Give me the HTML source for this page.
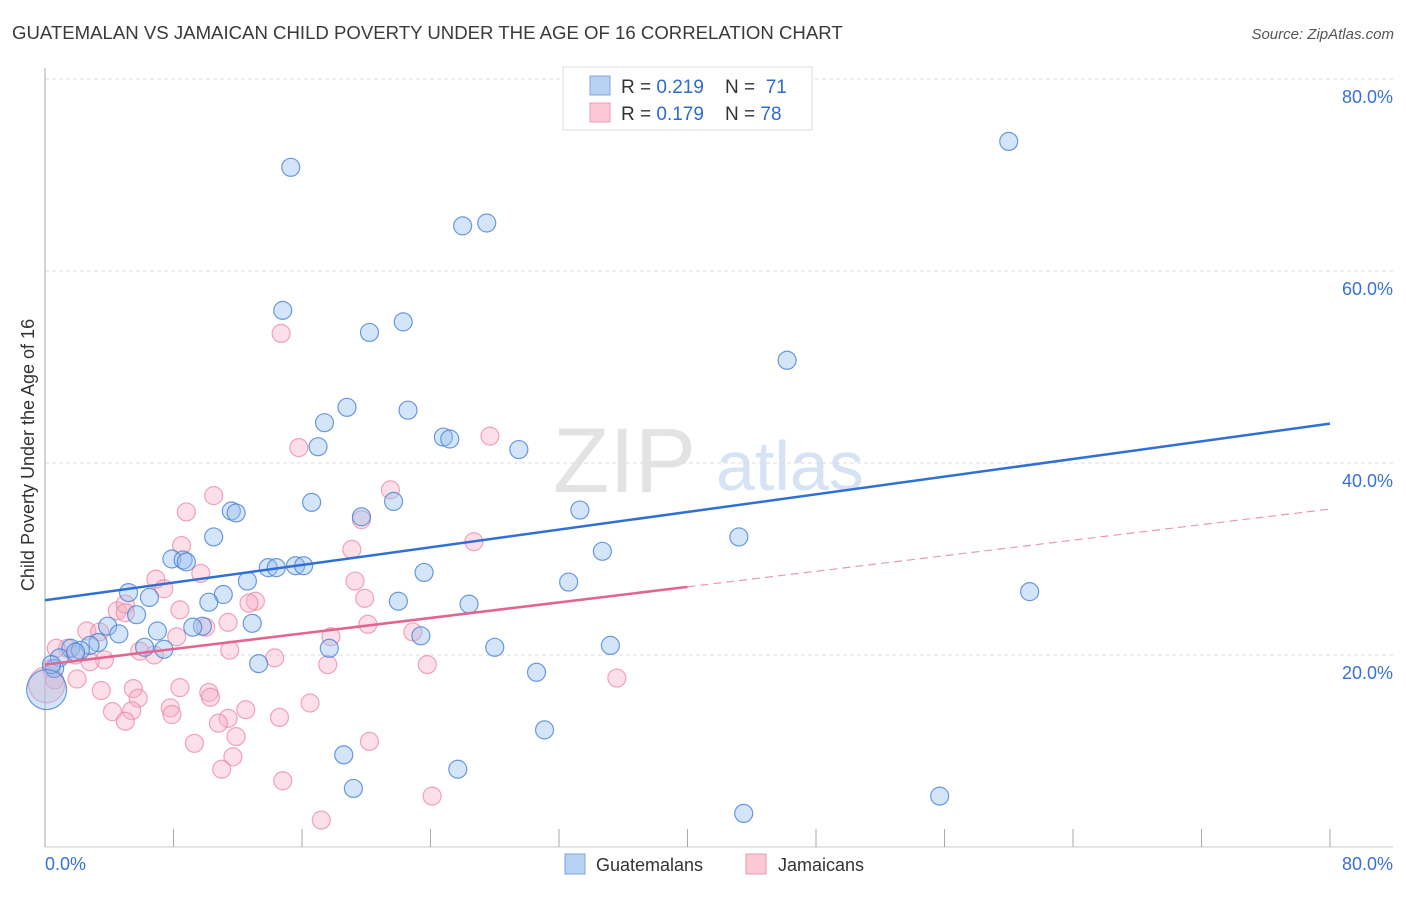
<!DOCTYPE html>
<html><head><meta charset="utf-8"><style>
body{margin:0;background:#fff;font-family:"Liberation Sans",sans-serif;}
svg text{font-family:"Liberation Sans",sans-serif;}
</style></head><body>
<svg id="chart" width="1406" height="892" xmlns="http://www.w3.org/2000/svg">
<text x="12" y="39" font-size="18.6" fill="#3a3a3a">GUATEMALAN VS JAMAICAN CHILD POVERTY UNDER THE AGE OF 16 CORRELATION CHART</text>
<text x="1394" y="39" font-size="15" fill="#555" font-style="italic" text-anchor="end">Source: ZipAtlas.com</text>
<g>
<text x="553" y="492" font-size="92" fill="#e3e3e3" font-family="Liberation Serif, serif">ZIP</text>
<text x="716" y="490" font-size="70" fill="#d6e3f5">atlas</text>
</g>
<g id="grid"></g>
<g id="axes"></g>
<g id="pts"></g>
<g id="lines"></g>
<text transform="translate(34,455) rotate(-90)" font-size="18" fill="#333" text-anchor="middle">Child Poverty Under the Age of 16</text>
<g>
<rect x="563" y="67" width="249" height="63" fill="#fff" stroke="#ddd"/>
<rect x="590" y="76" width="20" height="19" fill="#b8d2f4" stroke="#7aa6e0"/>
<rect x="590" y="103" width="20" height="19" fill="#fbc8d6" stroke="#eb9ab2"/>
<text x="621" y="93" font-size="19" fill="#333" xml:space="preserve">R = <tspan fill="#2f6ad0">0.219</tspan>    N =  <tspan fill="#2f6ad0">71</tspan></text>
<text x="621" y="120" font-size="19" fill="#333" xml:space="preserve">R = <tspan fill="#2f6ad0">0.179</tspan>    N = <tspan fill="#2f6ad0">78</tspan></text>
</g>
<g>
<rect x="565" y="854" width="20" height="20" fill="#b8d2f4" stroke="#7aa6e0"/>
<text x="596" y="871" font-size="18" fill="#333">Guatemalans</text>
<rect x="746" y="854" width="20" height="20" fill="#fbc8d6" stroke="#eb9ab2"/>
<text x="778" y="871" font-size="18" fill="#333">Jamaicans</text>
</g>
</svg>
<script>
const yTicks=[20,40,60,80];
const yTickLabels=["20.0%","40.0%","60.0%","80.0%"];
const xTicks=[0,8,16,24,32,40,48,56,64,72,80];
const xTickLabels=["0.0%","80.0%"];
const guatX=[15.3,60.0,26.0,27.5,14.8,20.2,22.3,46.2,18.8,17.4,22.6,24.8,25.2,17.0,29.5,16.6,21.7,19.7,33.3,11.6,11.9,10.5,43.2,7.9,8.6,8.8,34.7,13.9,14.4,15.6,16.1,23.6,12.6,32.6,61.3,5.2,6.5,11.1,10.2,26.4,22.0,5.7,12.9,9.8,9.2,3.9,7.0,4.6,23.4,35.2,28.0,17.7,6.2,7.4,3.3,2.8,1.6,2.2,0.9,0.6,13.3,30.6,31.1,18.6,25.7,19.2,55.7,43.5,1.9,0.4,0.1];
const guatY=[70.8,73.5,64.7,65.0,55.9,53.6,54.7,50.7,45.8,44.2,45.5,42.7,42.5,41.7,41.4,35.9,36.0,34.4,35.1,35.0,34.8,32.3,32.3,30.0,29.9,29.7,30.8,29.1,29.1,29.3,29.3,28.6,27.7,27.6,26.6,26.5,26.0,26.3,25.5,25.3,25.6,24.2,23.3,23.0,22.9,23.0,22.5,22.2,22.0,21.0,20.8,20.7,20.8,20.6,21.3,21.0,20.7,20.5,19.7,18.6,19.1,18.2,12.2,9.6,8.1,6.1,5.3,3.5,20.3,19.0,16.4];
const jamX=[14.7,15.8,27.7,21.5,10.5,8.8,19.7,19.1,26.7,8.5,9.7,6.9,19.3,7.4,19.9,13.1,12.7,4.5,5.0,8.4,5.0,11.4,20.1,22.9,17.8,8.2,2.6,3.4,10.0,11.5,5.9,6.8,3.7,1.4,0.7,1.9,2.8,14.3,17.6,23.8,35.6,2.0,3.5,5.5,8.4,10.2,10.3,5.8,16.5,4.2,5.4,12.5,7.8,7.9,5.0,14.6,11.4,10.8,11.9,9.3,20.2,11.7,11.0,14.8,24.1,17.2,0.4,0.6,0.1];
const jamY=[53.5,41.6,42.8,37.2,36.6,34.9,34.1,31.0,31.8,31.4,28.5,27.9,27.7,26.9,25.9,25.6,25.4,24.6,25.3,24.7,24.4,23.4,23.2,22.4,21.9,21.9,22.5,22.4,22.9,20.5,20.4,20.0,19.5,20.7,20.7,20.0,19.3,19.7,19.0,19.0,17.6,17.5,16.3,16.5,16.6,16.1,15.6,15.5,15.0,14.1,14.2,14.3,14.5,13.8,13.1,13.5,13.4,12.9,11.5,10.8,11.0,9.4,8.1,6.9,5.3,2.8,18.6,17.4,16.9];
const guatTrend=[25.7,44.1];
const jamTrend=[19.0,35.2];
const jamSolidEnd=40;
const NS="http://www.w3.org/2000/svg";
const X0=45,X1=1330,Y0=847,Y80=79;
function sx(v){return X0+(X1-X0)*v/80;}
function sy(v){return Y0-(Y0-Y80)*v/80;}
function mk(tag,attrs,parent){const e=document.createElementNS(NS,tag);for(const k in attrs)e.setAttribute(k,attrs[k]);parent.appendChild(e);return e;}
const grid=document.getElementById('grid'),axes=document.getElementById('axes'),pts=document.getElementById('pts'),lines=document.getElementById('lines');
yTicks.forEach((t,i)=>{
 const l=mk('line',{x1:X0,x2:1393,y1:sy(t),y2:sy(t),stroke:'#ddd','stroke-dasharray':'4,3'},grid);
 
 
 const tx=mk('text',{x:1393,y:sy(t)+24,'font-size':18,fill:'#3a6fd8','text-anchor':'end'},axes);
 tx.textContent=yTickLabels[i];
 
 
});
const ax=mk('line',{x1:X0,x2:X0,y1:68,y2:Y0,stroke:'#aaa'},axes);


const bx=mk('line',{x1:X0,x2:1393,y1:Y0,y2:Y0,stroke:'#ccc'},axes);


xTicks.forEach(t=>{
 const l=mk('line',{x1:sx(t),x2:sx(t),y1:829,y2:Y0,stroke:'#aaa'},axes);
 
 
});
const xl0=mk('text',{x:45,y:870,'font-size':18,fill:'#3a6fd8'},axes);xl0.textContent=xTickLabels[0];


const xl1=mk('text',{x:1393,y:870,'font-size':18,fill:'#3a6fd8','text-anchor':'end'},axes);xl1.textContent=xTickLabels[1];


function dot(x,y,r,fill,stroke,name){
 const c=mk('circle',{cx:sx(x),cy:sy(y),r:r,fill:fill,stroke:stroke,'stroke-width':1.2},pts);
 
 
}
jamX.forEach((x,i)=>dot(x,jamY[i],i==jamX.length-1?18:9,'rgba(248,176,198,0.4)','rgba(232,130,160,0.7)','point-jamaican'));
guatX.forEach((x,i)=>dot(x,guatY[i],i==guatX.length-1?20:9,'rgba(150,190,240,0.4)','rgba(70,130,215,0.8)','point-guatemalan'));
const gl=mk('line',{x1:sx(0),y1:sy(guatTrend[0]),x2:sx(80),y2:sy(guatTrend[1]),stroke:'#2f6fd6','stroke-width':2.5},lines);


const jm=jamTrend[0]+(jamTrend[1]-jamTrend[0])*jamSolidEnd/80;
const jl=mk('line',{x1:sx(0),y1:sy(jamTrend[0]),x2:sx(jamSolidEnd),y2:sy(jm),stroke:'#e5648e','stroke-width':2.5},lines);


const jd=mk('line',{x1:sx(jamSolidEnd),y1:sy(jm),x2:sx(80),y2:sy(jamTrend[1]),stroke:'#e89ab2','stroke-width':1.2,'stroke-dasharray':'8,5'},lines);


</script>
</body></html>
